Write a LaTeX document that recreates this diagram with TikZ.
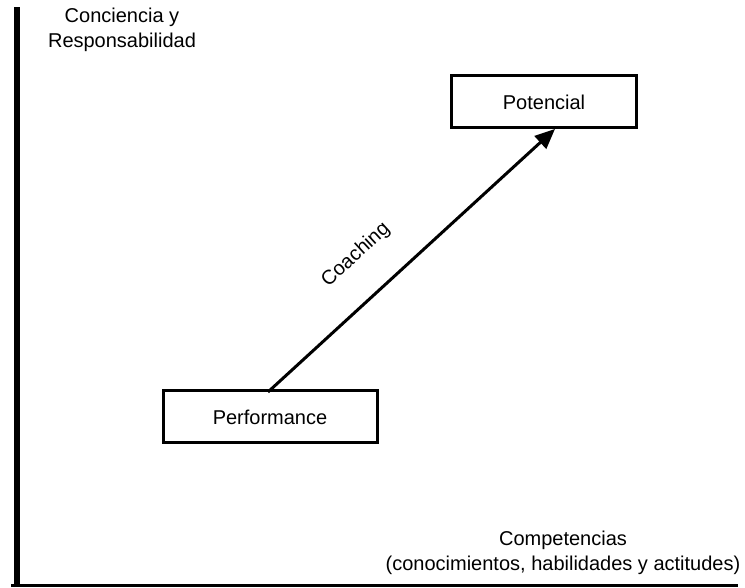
\documentclass[tikz,border=0pt]{standalone}
\usepackage{fontspec}
\setmainfont{Liberation Sans}
\usetikzlibrary{arrows.meta}
\begin{document}
\begin{tikzpicture}[x=1pt,y=1pt,
  lbl/.style={font=\fontsize{20}{25}\selectfont, align=center, inner sep=0pt},
  stage/.style={draw, line width=3pt, minimum width=#1, minimum height=52pt, font=\fontsize{20}{24}\selectfont, inner sep=0pt},
  axis/.style={line width=#1, line cap=butt},
  link/.style={line width=3pt, -{Triangle[length=20pt,width=17pt]}}]
  \useasboundingbox (0,0) rectangle (745,587);
  % axes
  \coordinate (ytop) at (17,580);
  \coordinate (origin) at (17,0);
  \coordinate (xleft) at (11,2);
  \coordinate (xright) at (738,2);
  \draw[axis=6.5pt] (origin) -- (ytop);
  \draw[axis=3pt] (xleft) -- (xright);
  % axis labels
  \node[lbl] (ylab) at (122,557) {Conciencia y\\Responsabilidad};
  \node[lbl] (xlab) at (563,34) {Competencias\\(conocimientos, habilidades y actitudes)};
  % stages
  \node[stage=185pt] (pot) at (544,485) {Potencial};
  \node[stage=214pt] (perf) at (270,170) {Performance};
  % growth arrow
  \coordinate (start) at (268,195);
  \coordinate (tip) at (555,458);
  \draw[link] (start) -- (tip);
  \node[font=\fontsize{20}{24}\selectfont, rotate=42.5, inner sep=0pt] (coach) at (356,332) {Coaching};
\end{tikzpicture}
\end{document}
